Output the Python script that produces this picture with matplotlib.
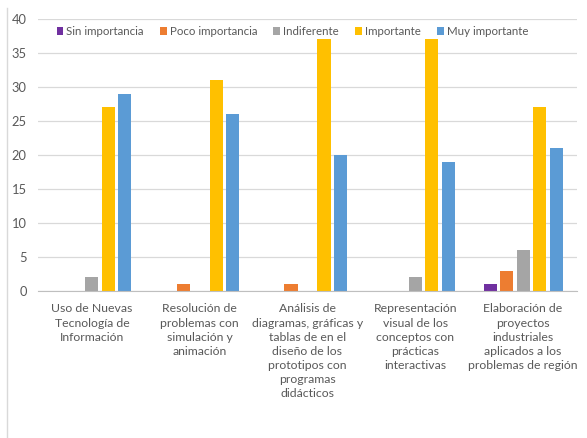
import matplotlib
matplotlib.use("Agg")
import matplotlib.pyplot as plt
import numpy as np
from matplotlib.lines import Line2D

categories = [
    "Uso de Nuevas\nTecnología de\nInformación",
    "Resolución de\nproblemas con\nsimulación y\nanimación",
    "Análisis de\ndiagramas, gráficas y\ntablas de en el\ndiseño de los\nprototipos con\nprogramas\ndidácticos",
    "Representación\nvisual de los\nconceptos con\nprácticas\ninteractivas",
    "Elaboración de\nproyectos\nindustriales\naplicados a los\nproblemas de región",
]
series_names = ["Sin importancia", "Poco importancia", "Indiferente", "Importante", "Muy importante"]
sin_importancia = [0, 0, 0, 0, 1]
poco_importancia = [0, 1, 1, 0, 3]
indiferente = [2, 0, 0, 2, 6]
importante = [27, 31, 37, 37, 27]
muy_importante = [29, 26, 20, 19, 21]
yticks = [0, 5, 10, 15, 20, 25, 30, 35, 40]

series = [sin_importancia, poco_importancia, indiferente, importante, muy_importante]
colors = ["#7030A0", "#ED7D31", "#A5A5A5", "#FFC000", "#5B9BD5"]

plt.rcParams['font.family'] = ['Lato', 'DejaVu Sans']

fig = plt.figure(figsize=(5.87, 4.38), dpi=100)
ax = fig.add_axes([38/587, 147/438, 539/587, 272/438])

x = np.arange(len(categories))
pitch = 0.153
width = 0.122
for i, (vals, col, name) in enumerate(zip(series, colors, series_names)):
    ax.bar(x + (i - 2) * pitch, vals, width=width, color=col, label=name, zorder=3)

ax.set_xlim(-0.5, 4.5)
ax.set_ylim(0, 40)
ax.set_yticks(yticks)
ax.set_xticks(x)
ax.set_xticklabels(categories, fontsize=8.8, color="#595959", linespacing=1.35)
ax.tick_params(axis='y', labelsize=9.3, colors="#595959", length=0, pad=8)
ax.tick_params(axis='x', length=0, pad=9)
ax.grid(axis='y', color="#D9D9D9", linewidth=0.9, zorder=0)
for s in ["top", "right", "left"]:
    ax.spines[s].set_visible(False)
ax.spines["bottom"].set_color("#BFBFBF")
ax.spines["bottom"].set_zorder(4)

leg = ax.legend(loc="upper center", bbox_to_anchor=(0.472, 1.0), ncol=5, frameon=False,
                fontsize=8.3, handlelength=0.6, handleheight=0.6, handletextpad=0.25,
                columnspacing=1.4, borderaxespad=0.2)
for t in leg.get_texts():
    t.set_color("#595959")

fig.add_artist(Line2D([7/587, 7/587], [0, 430/438], transform=fig.transFigure,
                      color="#D9D9D9", linewidth=1))

fig.savefig("out.png", dpi=100)
